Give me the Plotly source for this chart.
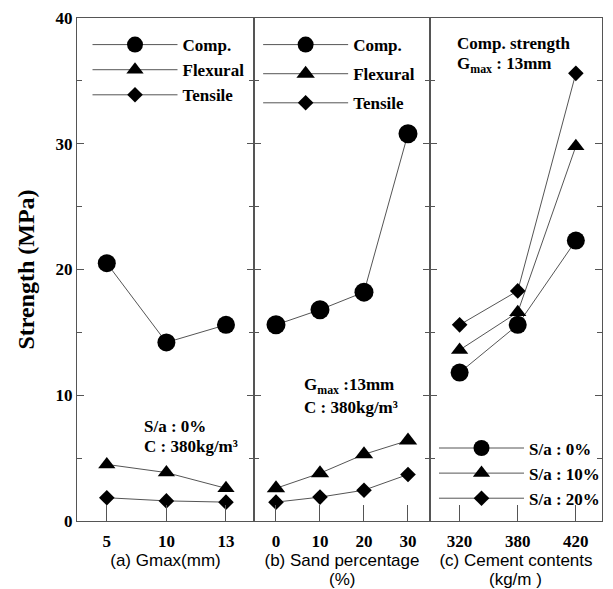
import plotly.graph_objects as go
from plotly.subplots import make_subplots

# Panel (a): Gmax (mm)
gmax_labels = ["5", "10", "13"]
a_comp = [20.5, 14.2, 15.6]
a_flex = [4.5, 3.85, 2.6]
a_tens = [1.85, 1.6, 1.5]

# Panel (b): sand percentage (%)
sand_labels = ["0", "10", "20", "30"]
b_comp = [15.6, 16.8, 18.2, 30.8]
b_flex = [2.6, 3.8, 5.3, 6.4]
b_tens = [1.5, 1.9, 2.45, 3.7]

# Panel (c): cement contents (kg/m3)
cement_labels = ["320", "380", "420"]
c_sa0 = [11.8, 15.6, 22.3]
c_sa10 = [13.6, 16.6, 29.8]
c_sa20 = [15.6, 18.3, 35.6]

y_ticks = [0, 10, 20, 30, 40]

SERIF = "Liberation Serif"
SANS = "Liberation Sans"
LINE = "#555555"
INK = "black"

fig = make_subplots(rows=1, cols=3, shared_yaxes=True, horizontal_spacing=0,
                    column_widths=[178, 177, 173])

def add(col, labels, vals, name, symbol, size, legend, group):
    fig.add_trace(go.Scatter(
        x=list(range(len(labels))), y=vals, name=name, mode="lines+markers",
        line=dict(color=LINE, width=1),
        marker=dict(symbol=symbol, size=size, color=INK),
        legend=legend, legendgroup=group,
    ), row=1, col=col)

add(1, gmax_labels, a_comp, "Comp.", "circle", 18, "legend", "a1")
add(1, gmax_labels, a_flex, "Flexural", "triangle-up", 15, "legend", "a2")
add(1, gmax_labels, a_tens, "Tensile", "diamond", 12, "legend", "a3")

add(2, sand_labels, b_comp, "Comp.", "circle", 19, "legend2", "b1")
add(2, sand_labels, b_flex, "Flexural", "triangle-up", 16, "legend2", "b2")
add(2, sand_labels, b_tens, "Tensile", "diamond", 12, "legend2", "b3")

add(3, cement_labels, c_sa0, "S/a : 0%", "circle", 18, "legend3", "c1")
add(3, cement_labels, c_sa10, "S/a : 10%", "triangle-up", 15, "legend3", "c2")
add(3, cement_labels, c_sa20, "S/a : 20%", "diamond", 12, "legend3", "c3")

xcommon = dict(showline=True, linecolor=LINE, linewidth=1, mirror=True,
               ticks="inside", ticklen=16, tickcolor=LINE, tickwidth=1,
               showgrid=False, zeroline=False, ticklabelstandoff=5,
               tickfont=dict(family=SERIF, size=17, color=INK, weight="bold"),
               title_font=dict(family=SANS, size=17, color=INK),
               title_standoff=3)
fig.update_xaxes(**xcommon)
fig.update_xaxes(row=1, col=1, range=[-0.5, 2.47], tickvals=list(range(3)),
                 ticktext=gmax_labels, title_text="(a) Gmax(mm)")
fig.update_xaxes(row=1, col=2, range=[-0.5, 3.5], tickvals=list(range(4)),
                 ticktext=sand_labels, title_text="(b) Sand percentage")
fig.update_xaxes(row=1, col=3, range=[-0.51, 2.45], tickvals=list(range(3)),
                 ticktext=cement_labels, title_text="(c) Cement contents")

fig.update_yaxes(range=[0, 40], tickvals=y_ticks, showline=True, linecolor=LINE,
                 linewidth=1, mirror="ticks", ticks="inside", ticklen=7,
                 tickcolor=LINE, tickwidth=1, showgrid=False, zeroline=False,
                 minor=dict(dtick=5, ticks="inside", ticklen=5, tickcolor=LINE),
                 tickfont=dict(family=SERIF, size=17, color=INK, weight="bold"))
fig.update_yaxes(row=1, col=1, title_text="<b>Strength (MPa)</b>",
                 title_font=dict(family=SERIF, size=24, color=INK), title_standoff=14)

legfont = dict(family=SERIF, size=17, color=INK, weight="bold")
fig.update_layout(
    width=613, height=589, margin=dict(l=77, r=8, t=18, b=68),
    paper_bgcolor="white", plot_bgcolor="white",
    legend=dict(x=0.02, y=0.982, xanchor="left", yanchor="top", bgcolor="rgba(0,0,0,0)",
                font=legfont, itemwidth=85, tracegroupgap=0, itemclick=False),
    legend2=dict(x=0.345, y=0.982, xanchor="left", yanchor="top", bgcolor="rgba(0,0,0,0)",
                 font=legfont, itemwidth=85, tracegroupgap=4, itemclick=False),
    legend3=dict(x=0.68, y=0.18, xanchor="left", yanchor="top", bgcolor="rgba(0,0,0,0)",
                 font=legfont, itemwidth=85, tracegroupgap=0, itemclick=False),
)

def note(text, x, y, size=17, family=SERIF, anchor="left"):
    fig.add_annotation(text=text, x=x, y=y, xref="paper", yref="paper", showarrow=False,
                       xanchor=anchor, yanchor="middle", align="left",
                       font=dict(family=family, size=size, color=INK))

# in-panel notes
note("<b>S/a : 0%</b>", 0.1231, 0.1869)
note("<b>C : 380kg/m³</b>", 0.1231, 0.1491)
note("<b>G<sub>max</sub> :13mm</b>", 0.428, 0.2684)
note("<b>C : 380kg/m³</b>", 0.428, 0.2266)
note("<b>Comp. strength</b>", 0.7197, 0.9493)
note("<b>G<sub>max</sub> : 13mm</b>", 0.7197, 0.9075)

# second lines of the x-axis titles
fig.add_annotation(text="(%)", x=0.5, y=-0.117, xref="x2 domain", yref="paper",
                   showarrow=False, xanchor="center", yanchor="middle",
                   font=dict(family=SANS, size=17, color=INK))
fig.add_annotation(text="(kg/m )", x=0.5, y=-0.117, xref="x3 domain", yref="paper",
                   showarrow=False, xanchor="center", yanchor="middle",
                   font=dict(family=SANS, size=17, color=INK))

fig.write_html("out.html")
